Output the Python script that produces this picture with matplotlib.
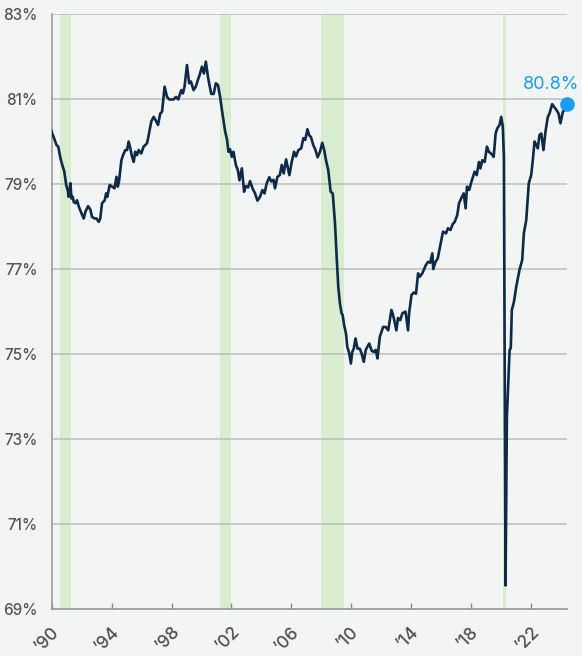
# Capacity utilization chart, 1990 - 2024
import numpy as np
import matplotlib
matplotlib.use('Agg')
import matplotlib.pyplot as plt
import matplotlib.transforms as mtransforms

# --- Data ---

# Decimal year of each point
years = [
    1990.00, 1990.05, 1990.15, 1990.33, 1990.45, 1990.60, 1990.75, 1990.85, 1990.98, 1991.08,
    1991.15, 1991.26, 1991.33, 1991.42, 1991.48, 1991.60, 1991.70, 1991.82, 1992.00, 1992.15,
    1992.26, 1992.44, 1992.59, 1992.70, 1992.88, 1993.00, 1993.15, 1993.25, 1993.37, 1993.55,
    1993.64, 1993.72, 1993.88, 1994.04, 1994.20, 1994.33, 1994.42, 1994.50, 1994.66, 1994.77,
    1994.92, 1995.04, 1995.14, 1995.25, 1995.37, 1995.48, 1995.58, 1995.70, 1995.81, 1995.98,
    1996.14, 1996.37, 1996.48, 1996.65, 1996.81, 1996.96, 1997.10, 1997.25, 1997.37, 1997.54,
    1997.70, 1997.85, 1998.14, 1998.30, 1998.45, 1998.65, 1998.76, 1998.87, 1999.03, 1999.18,
    1999.30, 1999.47, 1999.62, 1999.76, 1999.87, 2000.03, 2000.16, 2000.29, 2000.43, 2000.53,
    2000.65, 2000.81, 2000.96, 2001.10, 2001.24, 2001.40, 2001.58, 2001.70, 2001.80, 2001.90,
    2002.02, 2002.13, 2002.29, 2002.42, 2002.53, 2002.69, 2002.84, 2002.95, 2003.10, 2003.24,
    2003.40, 2003.57, 2003.73, 2003.90, 2004.06, 2004.20, 2004.35, 2004.52, 2004.65, 2004.80,
    2004.90, 2005.06, 2005.22, 2005.35, 2005.48, 2005.64, 2005.75, 2005.86, 2006.02, 2006.17,
    2006.30, 2006.46, 2006.65, 2006.79, 2006.92, 2007.06, 2007.18, 2007.30, 2007.45, 2007.60,
    2007.74, 2007.90, 2008.05, 2008.18, 2008.30, 2008.45, 2008.61, 2008.75, 2008.90, 2009.01,
    2009.12, 2009.23, 2009.34, 2009.41, 2009.50, 2009.63, 2009.72, 2009.85, 2009.96, 2010.05,
    2010.15, 2010.27, 2010.40, 2010.55, 2010.67, 2010.82, 2010.95, 2011.18, 2011.35, 2011.50,
    2011.62, 2011.73, 2011.89, 2012.11, 2012.28, 2012.45, 2012.66, 2012.75, 2012.85, 2012.99,
    2013.10, 2013.25, 2013.39, 2013.60, 2013.77, 2013.84, 2014.00, 2014.15, 2014.30, 2014.44,
    2014.55, 2014.72, 2014.95, 2015.10, 2015.25, 2015.39, 2015.45, 2015.60, 2015.75, 2015.99,
    2016.10, 2016.30, 2016.43, 2016.60, 2016.75, 2016.88, 2017.05, 2017.17, 2017.32, 2017.48,
    2017.61, 2017.70, 2017.85, 2017.99, 2018.10, 2018.21, 2018.35, 2018.50, 2018.60, 2018.72,
    2018.88, 2019.03, 2019.15, 2019.30, 2019.48, 2019.61, 2019.72, 2019.87, 2019.98, 2020.09,
    2020.16, 2020.27, 2020.36, 2020.54, 2020.62, 2020.69, 2020.83, 2020.98, 2021.20, 2021.38,
    2021.49, 2021.65, 2021.82, 2021.98, 2022.10, 2022.20, 2022.32, 2022.42, 2022.53, 2022.65,
    2022.80, 2022.93, 2023.09, 2023.20, 2023.38, 2023.50, 2023.65, 2023.80, 2023.93, 2024.09,
    2024.31, 2024.40,
]

# Capacity utilization (%)
values = [
    80.25, 80.19, 80.10, 79.92, 79.88, 79.60, 79.41, 79.30, 78.98, 78.85,
    78.70, 79.02, 78.66, 78.70, 78.58, 78.55, 78.62, 78.47, 78.31, 78.19,
    78.35, 78.48, 78.40, 78.23, 78.19, 78.19, 78.11, 78.19, 78.55, 78.62,
    78.78, 78.70, 78.98, 78.94, 78.90, 79.17, 78.94, 79.06, 79.56, 79.68,
    79.80, 79.80, 80.00, 79.85, 79.64, 79.52, 79.76, 79.68, 79.80, 79.72,
    79.88, 79.96, 80.15, 80.47, 80.58, 80.49, 80.39, 80.66, 80.70, 81.29,
    81.05, 80.99, 80.99, 81.05, 80.99, 81.21, 81.13, 81.29, 81.80, 81.37,
    81.41, 81.21, 81.29, 81.45, 81.56, 81.76, 81.60, 81.88, 81.52, 81.33,
    81.12, 81.12, 81.37, 81.33, 81.05, 80.65, 80.23, 80.05, 79.76, 79.82,
    79.64, 79.76, 79.45, 79.33, 79.09, 79.37, 78.82, 78.95, 78.92, 79.07,
    78.90, 78.78, 78.61, 78.70, 78.86, 78.78, 79.02, 79.16, 79.06, 79.10,
    78.90, 79.17, 79.21, 79.45, 79.25, 79.58, 79.40, 79.21, 79.53, 79.76,
    79.65, 79.80, 79.84, 80.08, 80.04, 80.29, 80.15, 80.10, 79.92, 79.80,
    79.63, 79.76, 79.97, 79.80, 79.56, 79.33, 78.82, 78.78, 78.08, 77.29,
    76.58, 76.19, 75.96, 75.92, 75.70, 75.49, 75.17, 75.02, 74.78, 75.05,
    75.13, 75.37, 75.13, 75.13, 75.02, 74.82, 75.10, 75.25, 75.08, 75.05,
    75.10, 74.90, 75.41, 75.64, 75.64, 75.56, 76.04, 75.95, 75.80, 75.56,
    75.85, 75.80, 75.96, 76.00, 75.56, 75.96, 76.39, 76.45, 76.42, 76.90,
    76.82, 76.90, 77.09, 77.17, 77.15, 77.37, 77.00, 77.17, 77.25, 77.68,
    77.88, 77.84, 77.96, 77.92, 78.06, 78.11, 78.27, 78.55, 78.67, 78.78,
    78.43, 78.94, 78.86, 79.05, 79.17, 79.29, 79.21, 79.52, 79.37, 79.56,
    79.52, 79.88, 79.76, 79.72, 79.64, 80.19, 80.31, 80.39, 80.58, 80.35,
    79.64, 69.56, 73.52, 75.09, 75.15, 76.04, 76.23, 76.58, 76.98, 77.21,
    77.84, 78.15, 79.02, 79.21, 79.60, 80.00, 79.92, 79.84, 80.15, 80.19,
    79.80, 80.23, 80.58, 80.66, 80.88, 80.82, 80.75, 80.66, 80.43, 80.70,
    80.78, 80.88,
]

# Recession periods (start, end)
recessions = [(1990.57, 1991.27), (2001.23, 2001.95), (2008.0, 2009.48), (2020.13, 2020.33)]

# Axis ticks
x_ticks = [1990, 1994, 1998, 2002, 2006, 2010, 2014, 2018, 2022]
x_tick_labels = ['\u2019' + str(y)[2:] for y in x_ticks]
y_ticks = [69, 71, 73, 75, 77, 79, 81, 83]
y_tick_labels = [str(v) + '%' for v in y_ticks]

last_label = '80.8%'

# --- Plotting ---

bg = '#f3f4f4'
plt.rcParams['font.family'] = ['Inter', 'DejaVu Sans']

fig = plt.figure(figsize=(5.82, 6.56), dpi=100, facecolor=bg)
ax = fig.add_axes([0.0885, 0.0712, 0.8863, 0.9075], facecolor=bg)

# Recession shading
for start, end in recessions:
    ax.axvspan(start, end, color='#d8ecd0', lw=0, zorder=0)

# Horizontal gridlines
for v in y_ticks:
    ax.axhline(v, color='#bcbcbc', lw=1.1, zorder=1)

# Main line
ax.plot(years, values, color='#0e2a47', lw=1.9, zorder=3, solid_joinstyle='round')

# Latest value marker and label
ax.plot(years[-1], values[-1], 'o', color='#1a9cf5', markersize=9.5, zorder=4, clip_on=False)
ax.annotate(last_label, (years[-1], values[-1]), xytext=(-12, 14), textcoords='offset points',
            ha='center', va='center', fontsize=13, color='#1a9cf5', annotation_clip=False)

# Axis limits
ax.set_xlim(1990, 2024.39)
ax.set_ylim(69, 83)

# Ticks
ax.set_xticks(x_ticks)
ax.set_xticklabels(x_tick_labels, rotation=45, ha='center', fontsize=12.5,
                   color='#505050', fontweight='medium')
ax.set_yticks(y_ticks)
ax.set_yticklabels(y_tick_labels, fontsize=11, color='#555555', fontweight='medium')
ax.tick_params(axis='x', direction='in', length=4, width=1, color='#8a8a8a', pad=10)
ax.tick_params(axis='y', length=0, pad=10)

# Nudge the rotated year labels a little to the left
shift = mtransforms.ScaledTranslation(-4 / 100, 0, fig.dpi_scale_trans)
for lbl in ax.get_xticklabels():
    lbl.set_transform(lbl.get_transform() + shift)

# Spines
for side in ['top', 'right']:
    ax.spines[side].set_visible(False)
for side in ['left', 'bottom']:
    ax.spines[side].set_color('#9a9a9a')
    ax.spines[side].set_linewidth(1.2)

fig.savefig('out.png', dpi=100, facecolor=bg)
